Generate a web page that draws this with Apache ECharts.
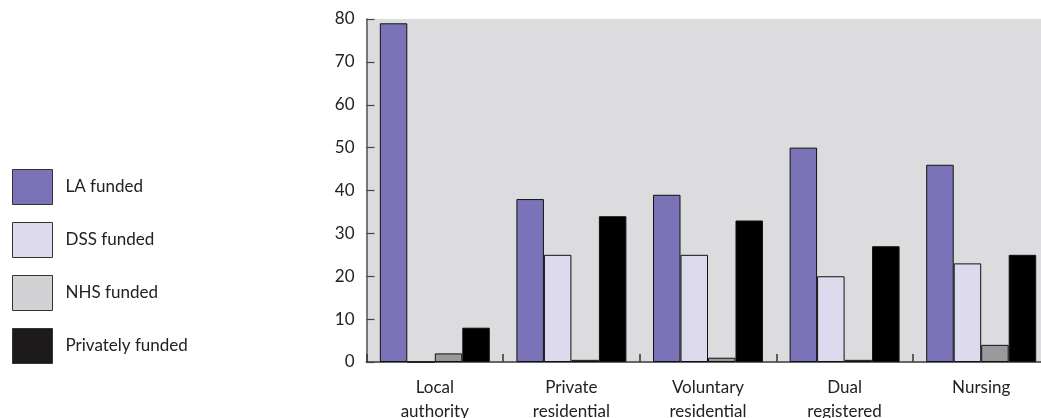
<!DOCTYPE html>
<html>
<head>
<meta charset="utf-8">
<script src="https://cdn.jsdelivr.net/npm/echarts@6/dist/echarts.min.js"></script>
<style>
html,body{margin:0;padding:0;background:#fff;}
#chart{width:1041px;height:418px;}
</style>
</head>
<body>
<div id="chart"></div>
<script>
const categories = ["Local\nauthority", "Private\nresidential", "Voluntary\nresidential", "Dual\nregistered", "Nursing"];
const laFunded = [79, 38, 39, 50, 46];
const dssFunded = [0, 25, 25, 20, 23];
const nhsFunded = [2, 0.5, 1, 0.5, 4];
const privatelyFunded = [8, 34, 33, 27, 25];
const yTicks = [0, 10, 20, 30, 40, 50, 60, 70, 80];

const FONT = 'Lato, "Open Sans", sans-serif';
const chart = echarts.init(document.getElementById('chart'), null, {renderer: 'canvas'});

function bar(name, data, color) {
  return {
    name: name, type: 'bar', data: data,
    barGap: '0%', barCategoryGap: '19.5%',
    itemStyle: {color: color, borderColor: '#111', borderWidth: 1},
    emphasis: {disabled: true}
  };
}

chart.setOption({
  animation: false,
  textStyle: {fontFamily: FONT},
  grid: {left: 366.5, top: 19, width: 683, height: 343, outerBoundsMode: 'none', containLabel: false,
    show: true, backgroundColor: '#dcdcde', borderWidth: 0},
  legend: {
    orient: 'vertical', left: 7, top: 164,
    itemWidth: 40, itemHeight: 35, itemGap: 17,
    icon: 'rect',
    textStyle: {fontSize: 17, color: '#222', fontFamily: FONT, padding: [0, 0, 0, 8]},
    data: [
      {name: 'LA funded', itemStyle: {color: '#7b73b7', borderColor: '#333', borderWidth: 1}},
      {name: 'DSS funded', itemStyle: {color: '#dddaee', borderColor: '#333', borderWidth: 1}},
      {name: 'NHS funded', itemStyle: {color: '#d2d2d4', borderColor: '#333', borderWidth: 1}},
      {name: 'Privately funded', itemStyle: {color: '#1c1a1b', borderColor: '#333', borderWidth: 1}}
    ]
  },
  xAxis: {
    type: 'category', data: categories,
    axisLine: {lineStyle: {color: '#666', width: 2}},
    axisTick: {show: true, inside: true, length: 8, lineStyle: {color: '#333', width: 1.5}},
    axisLabel: {fontSize: 17, color: '#222', lineHeight: 24, margin: 14, fontFamily: FONT, interval: 0}
  },
  yAxis: {
    type: 'value', min: 0, max: 80, interval: 10,
    splitLine: {show: false},
    axisLine: {show: true, lineStyle: {color: '#555', width: 1.5}},
    axisTick: {show: true, inside: true, length: 8, lineStyle: {color: '#444', width: 1.2}},
    axisLabel: {fontSize: 17, color: '#222', margin: 12, fontFamily: FONT,
      formatter: v => yTicks.includes(v) ? String(v) : ''}
  },
  series: [
    bar('LA funded', laFunded, '#7b73b7'),
    bar('DSS funded', dssFunded, '#dddaee'),
    bar('NHS funded', nhsFunded, '#9a9a9c'),
    bar('Privately funded', privatelyFunded, '#000000')
  ]
});
</script>
</body>
</html>
